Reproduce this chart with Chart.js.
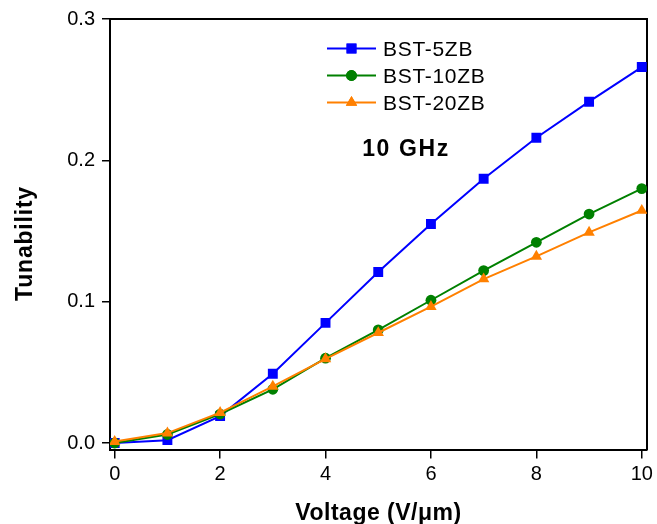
<!DOCTYPE html>
<html>
<head>
<meta charset="utf-8">
<script src="https://cdn.jsdelivr.net/npm/chart.js@4/dist/chart.umd.min.js"></script>
<style>
html,body{margin:0;padding:0;background:#fff;}
#wrap{width:657px;height:524px;position:relative;}
</style>
</head>
<body>
<div id="wrap"><canvas id="c" width="657" height="524"></canvas></div>
<script>
const voltage = [0, 1, 2, 3, 4, 5, 6, 7, 8, 9, 10];
const bst5 = [0.000, 0.002, 0.019, 0.049, 0.085, 0.121, 0.155, 0.187, 0.216, 0.2415, 0.266];
const bst10 = [0.000, 0.006, 0.0205, 0.038, 0.060, 0.080, 0.101, 0.122, 0.142, 0.162, 0.180];
const bst20 = [0.001, 0.007, 0.0215, 0.040, 0.0595, 0.078, 0.0965, 0.116, 0.132, 0.149, 0.1645];
const seriesNames = ['BST-5ZB', 'BST-10ZB', 'BST-20ZB'];
const xTicks = [0, 2, 4, 6, 8, 10];
const yTicks = [0, 0.1, 0.2, 0.3];
const annotationText = '10 GHz';
const xTitle = 'Voltage (V/\u03bcm)';
const yTitle = 'Tunability';

const colors = ['#0000ff', '#008000', '#ff8000'];
const styles = ['rect', 'circle', 'triangle'];
const radii = [7, 5.4, 6.6];
const allData = [bst5, bst10, bst20];

const datasets = allData.map((vals, i) => ({
  label: seriesNames[i],
  data: voltage.map((v, j) => ({x: v, y: vals[j]})),
  borderColor: colors[i],
  backgroundColor: colors[i],
  borderWidth: 2,
  pointStyle: styles[i],
  pointRadius: radii[i],
  pointBorderWidth: 0,
  pointHoverRadius: radii[i],
  order: 2 - i,
  tension: 0
}));

const FONT = "'Liberation Sans', Arial, sans-serif";

const textPlugin = {
  id: 'customText',
  afterDraw(chart) {
    const ctx = chart.ctx;
    const area = chart.chartArea;
    ctx.save();
    // legend
    const x0 = 327, x1 = 376, tx = 383;
    const rows = [48.5, 75.5, 102.5];
    datasets.forEach((ds, i) => {
      const y = rows[i];
      ctx.strokeStyle = ds.borderColor;
      ctx.lineWidth = 2;
      ctx.beginPath();
      ctx.moveTo(x0, y);
      ctx.lineTo(x1, y);
      ctx.stroke();
      ctx.fillStyle = ds.backgroundColor;
      Chart.helpers.drawPoint(ctx, {pointStyle: ds.pointStyle, radius: ds.pointRadius, borderWidth: 0, rotation: 0}, (x0 + x1) / 2, y);
      ctx.fill();
      ctx.fillStyle = '#000';
      ctx.font = '21px ' + FONT;
      ctx.letterSpacing = '0.7px';
      ctx.textBaseline = 'alphabetic';
      ctx.textAlign = 'left';
      ctx.fillText(ds.label, tx, y + 7.7);
    });
    // annotation
    ctx.font = 'bold 23px ' + FONT;
    ctx.letterSpacing = '1.6px';
    ctx.textAlign = 'center';
    ctx.textBaseline = 'alphabetic';
    ctx.fillStyle = '#000';
    ctx.fillText(annotationText, 406, 155.5);
    // axis titles
    ctx.font = 'bold 23px ' + FONT;
    ctx.letterSpacing = '0.5px';
    ctx.textAlign = 'center';
    ctx.fillText(xTitle, (area.left + area.right) / 2, 519.5);
    ctx.save();
    ctx.translate(31.5, 243.5);
    ctx.rotate(-Math.PI / 2);
    ctx.letterSpacing = '0.8px';
    ctx.fillText(yTitle, 0, 0);
    ctx.restore();
    ctx.restore();
  }
};

new Chart(document.getElementById('c'), {
  type: 'line',
  data: {datasets},
  options: {
    responsive: false,
    animation: false,
    devicePixelRatio: 1,
    layout: {padding: {top: 17, right: 9.5, left: 0, bottom: 0}},
    plugins: {legend: {display: false}, tooltip: {enabled: false}},
    scales: {
      x: {
        type: 'linear',
        min: -0.089,
        max: 10.1,
        afterBuildTicks: (s) => { s.ticks = xTicks.map(v => ({value: v})); },
        afterFit: (s) => { s.height = 74.5; },
        grid: {display: true, drawOnChartArea: false, drawTicks: true, tickLength: 9, color: '#000', lineWidth: 1.5},
        border: {display: true, color: '#000', width: 2},
        ticks: {color: '#000', font: {family: FONT, size: 20}, padding: 4, maxRotation: 0, callback: (v) => String(v)},
        title: {display: false}
      },
      y: {
        type: 'linear',
        min: -0.0046,
        max: 0.3,
        afterBuildTicks: (s) => { s.ticks = yTicks.map(v => ({value: v})); },
        afterFit: (s) => { s.width = 110; },
        grid: {display: true, drawOnChartArea: false, drawTicks: true, tickLength: 8, color: '#000', lineWidth: 1.5},
        border: {display: true, color: '#000', width: 2},
        ticks: {color: '#000', font: {family: FONT, size: 20}, padding: 7, callback: (v) => v.toFixed(1)},
        title: {display: false}
      },
      xTop: {
        type: 'linear', position: 'top', min: -0.089, max: 10.1,
        afterFit: (s) => { s.height = 0; },
        grid: {display: false}, ticks: {display: false},
        border: {display: true, color: '#000', width: 2}
      },
      yRight: {
        type: 'linear', position: 'right', min: -0.0046, max: 0.3,
        afterFit: (s) => { s.width = 0; },
        grid: {display: false}, ticks: {display: false},
        border: {display: true, color: '#000', width: 2}
      }
    }
  },
  plugins: [textPlugin]
});
</script>
</body>
</html>
